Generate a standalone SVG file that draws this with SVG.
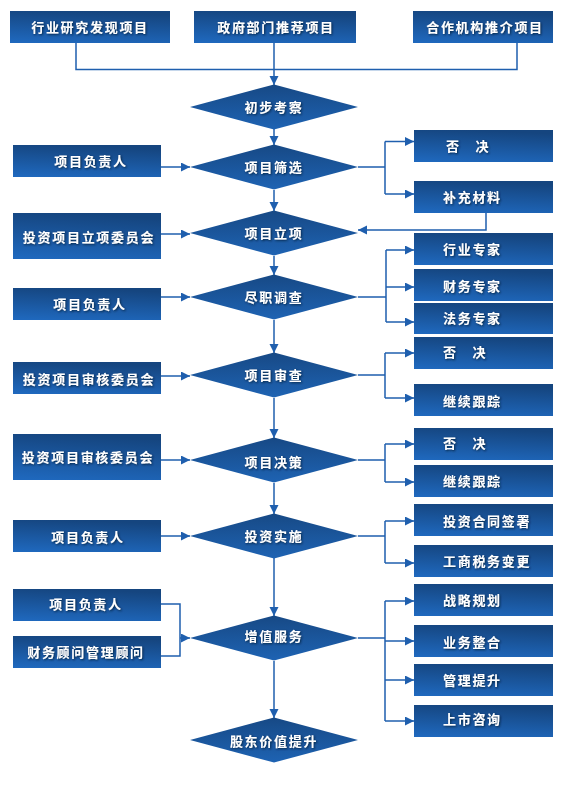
<svg xmlns="http://www.w3.org/2000/svg" width="564" height="798" viewBox="0 0 564 798">
<defs>
<linearGradient id="gBox" x1="0.4" y1="0" x2="0.2" y2="1">
<stop offset="0" stop-color="#15457f"/>
<stop offset="1" stop-color="#1f68bd"/>
</linearGradient>
<linearGradient id="gDia" x1="0" y1="0" x2="0" y2="1">
<stop offset="0" stop-color="#174985"/>
<stop offset="1" stop-color="#1e63b3"/>
</linearGradient>
<filter id="sh" x="-10%" y="-30%" width="120%" height="160%">
<feDropShadow dx="1" dy="1" stdDeviation="0.8" flood-color="#061a38" flood-opacity="0.9"/>
</filter>
<marker id="ah" markerUnits="userSpaceOnUse" markerWidth="10" markerHeight="10" refX="9" refY="4.5" orient="auto">
<path d="M0,0 L9,4.5 L0,9 z" fill="#1f5fae"/>
</marker>
</defs>
<style>
.box{fill:url(#gBox)}
.dia{fill:url(#gDia)}
text{font-family:"Noto Sans CJK SC","Noto Sans",sans-serif;font-size:13px;font-weight:bold;fill:#ffffff;letter-spacing:1.7px;filter:url(#sh);dominant-baseline:central}
.c{text-anchor:middle}
.l{text-anchor:start}
.ln{fill:none;stroke:#1f5fae;stroke-width:1.5}
.ar{fill:none;stroke:#1f5fae;stroke-width:1.5;marker-end:url(#ah)}
</style>

<g id="connectors">
<path class="ln" d="M76,43 V69.5 H517 V43"/>
<path class="ar" d="M274,43 V85"/>
<path class="ar" d="M274,129 V145"/>
<path class="ar" d="M274,190 V211"/>
<path class="ar" d="M274,256 V275"/>
<path class="ar" d="M274,320 V353"/>
<path class="ar" d="M274,398 V438"/>
<path class="ar" d="M274,483 V514"/>
<path class="ar" d="M274,558 V616"/>
<path class="ar" d="M274,661 V718"/>
<path class="ar" d="M161,167 H190"/>
<path class="ar" d="M161,234 H190"/>
<path class="ar" d="M161,297 H190"/>
<path class="ar" d="M161,376 H190"/>
<path class="ar" d="M161,460 H190"/>
<path class="ar" d="M161,536 H190"/>
<path class="ln" d="M161,604 H180 V656 H161"/>
<path class="ar" d="M180,638 H190"/>
<path class="ln" d="M358,167 H385 M385,141.5 V194"/>
<path class="ar" d="M385,141.5 H414"/>
<path class="ar" d="M385,194 H414"/>
<path class="ar" d="M486,213 V230 H358"/>
<path class="ln" d="M358,297 H386 M386,250 V322"/>
<path class="ar" d="M386,250 H414"/>
<path class="ar" d="M386,287 H414"/>
<path class="ar" d="M386,322 H414"/>
<path class="ln" d="M358,375 H385 M385,353 V398"/>
<path class="ar" d="M385,353 H414"/>
<path class="ar" d="M385,398 H414"/>
<path class="ln" d="M358,460 H385 M385,444 V482"/>
<path class="ar" d="M385,444 H414"/>
<path class="ar" d="M385,482 H414"/>
<path class="ln" d="M358,536 H385 M385,521 V563"/>
<path class="ar" d="M385,521 H414"/>
<path class="ar" d="M385,563 H414"/>
<path class="ln" d="M358,638 H385 M385,601 V721"/>
<path class="ar" d="M385,601 H414"/>
<path class="ar" d="M385,641 H414"/>
<path class="ar" d="M385,680 H414"/>
<path class="ar" d="M385,721 H414"/>
</g>

<g id="top1"><rect class="box" x="10" y="11" width="160" height="32"/><text class="c" x="90" y="26">行业研究发现项目</text></g>
<g id="top2"><rect class="box" x="194" y="11" width="162" height="32"/><text class="c" x="276" y="26">政府部门推荐项目</text></g>
<g id="top3"><rect class="box" x="413" y="11" width="140" height="32"/><text class="c" x="485" y="26">合作机构推介项目</text></g>

<g id="d1"><polygon class="dia" points="190,107 274,84.5 358,107 274,129.5"/><text class="c" x="274" y="106">初步考察</text></g>
<g id="d2"><polygon class="dia" points="190,167 274,144.5 358,167 274,189.5"/><text class="c" x="274" y="166">项目筛选</text></g>
<g id="d3"><polygon class="dia" points="190,233 274,210.5 358,233 274,255.5"/><text class="c" x="274" y="232">项目立项</text></g>
<g id="d4"><polygon class="dia" points="190,297 274,274.5 358,297 274,319.5"/><text class="c" x="274" y="296">尽职调查</text></g>
<g id="d5"><polygon class="dia" points="190,375 274,352.5 358,375 274,397.5"/><text class="c" x="274" y="374">项目审查</text></g>
<g id="d6"><polygon class="dia" points="190,460 274,437.5 358,460 274,482.5"/><text class="c" x="274" y="461">项目决策</text></g>
<g id="d7"><polygon class="dia" points="190,536 274,513.5 358,536 274,558.5"/><text class="c" x="274" y="535">投资实施</text></g>
<g id="d8"><polygon class="dia" points="190,638 274,615.5 358,638 274,660.5"/><text class="c" x="274" y="635">增值服务</text></g>
<g id="d9"><polygon class="dia" points="190,740 274,717.5 358,740 274,762.5"/><text class="c" x="274" y="740">股东价值提升</text></g>

<g id="l1"><rect class="box" x="13" y="145" width="148" height="32"/><text class="c" x="91" y="160">项目负责人</text></g>
<g id="l2"><rect class="box" x="13" y="213" width="148" height="46"/><text class="c" x="89" y="236">投资项目立项委员会</text></g>
<g id="l3"><rect class="box" x="13" y="288" width="148" height="32"/><text class="c" x="90" y="303">项目负责人</text></g>
<g id="l4"><rect class="box" x="13" y="362" width="148" height="32"/><text class="c" x="89" y="378">投资项目审核委员会</text></g>
<g id="l5"><rect class="box" x="13" y="434" width="148" height="46"/><text class="c" x="88" y="456">投资项目审核委员会</text></g>
<g id="l6"><rect class="box" x="13" y="520" width="148" height="32"/><text class="c" x="88" y="536">项目负责人</text></g>
<g id="l7"><rect class="box" x="13" y="589" width="148" height="32"/><text class="c" x="86" y="603">项目负责人</text></g>
<g id="l8"><rect class="box" x="13" y="636" width="148" height="32"/><text class="c" x="86" y="651">财务顾问管理顾问</text></g>

<g id="r1"><rect class="box" x="414" y="130" width="139" height="32"/><text class="l" x="446" y="145">否　决</text></g>
<g id="r2"><rect class="box" x="414" y="181" width="139" height="32"/><text class="l" x="443" y="196">补充材料</text></g>
<g id="r3"><rect class="box" x="414" y="233" width="139" height="32"/><text class="l" x="443" y="248">行业专家</text></g>
<g id="r4"><rect class="box" x="414" y="269" width="139" height="32"/><text class="l" x="443" y="285">财务专家</text></g>
<g id="r5"><rect class="box" x="414" y="303" width="139" height="31"/><text class="l" x="443" y="317">法务专家</text></g>
<g id="r6"><rect class="box" x="414" y="337" width="139" height="32"/><text class="l" x="443" y="351">否　决</text></g>
<g id="r7"><rect class="box" x="414" y="384" width="139" height="32"/><text class="l" x="443" y="400">继续跟踪</text></g>
<g id="r8"><rect class="box" x="414" y="428" width="139" height="32"/><text class="l" x="443" y="442">否　决</text></g>
<g id="r9"><rect class="box" x="414" y="465" width="139" height="32"/><text class="l" x="443" y="480">继续跟踪</text></g>
<g id="r10"><rect class="box" x="414" y="504" width="139" height="32"/><text class="l" x="443" y="520">投资合同签署</text></g>
<g id="r11"><rect class="box" x="414" y="545" width="139" height="32"/><text class="l" x="443" y="560">工商税务变更</text></g>
<g id="r12"><rect class="box" x="414" y="584" width="139" height="32"/><text class="l" x="443" y="599">战略规划</text></g>
<g id="r13"><rect class="box" x="414" y="625" width="139" height="32"/><text class="l" x="443" y="641">业务整合</text></g>
<g id="r14"><rect class="box" x="414" y="664" width="139" height="32"/><text class="l" x="443" y="679">管理提升</text></g>
<g id="r15"><rect class="box" x="414" y="705" width="139" height="32"/><text class="l" x="443" y="718">上市咨询</text></g>
</svg>
